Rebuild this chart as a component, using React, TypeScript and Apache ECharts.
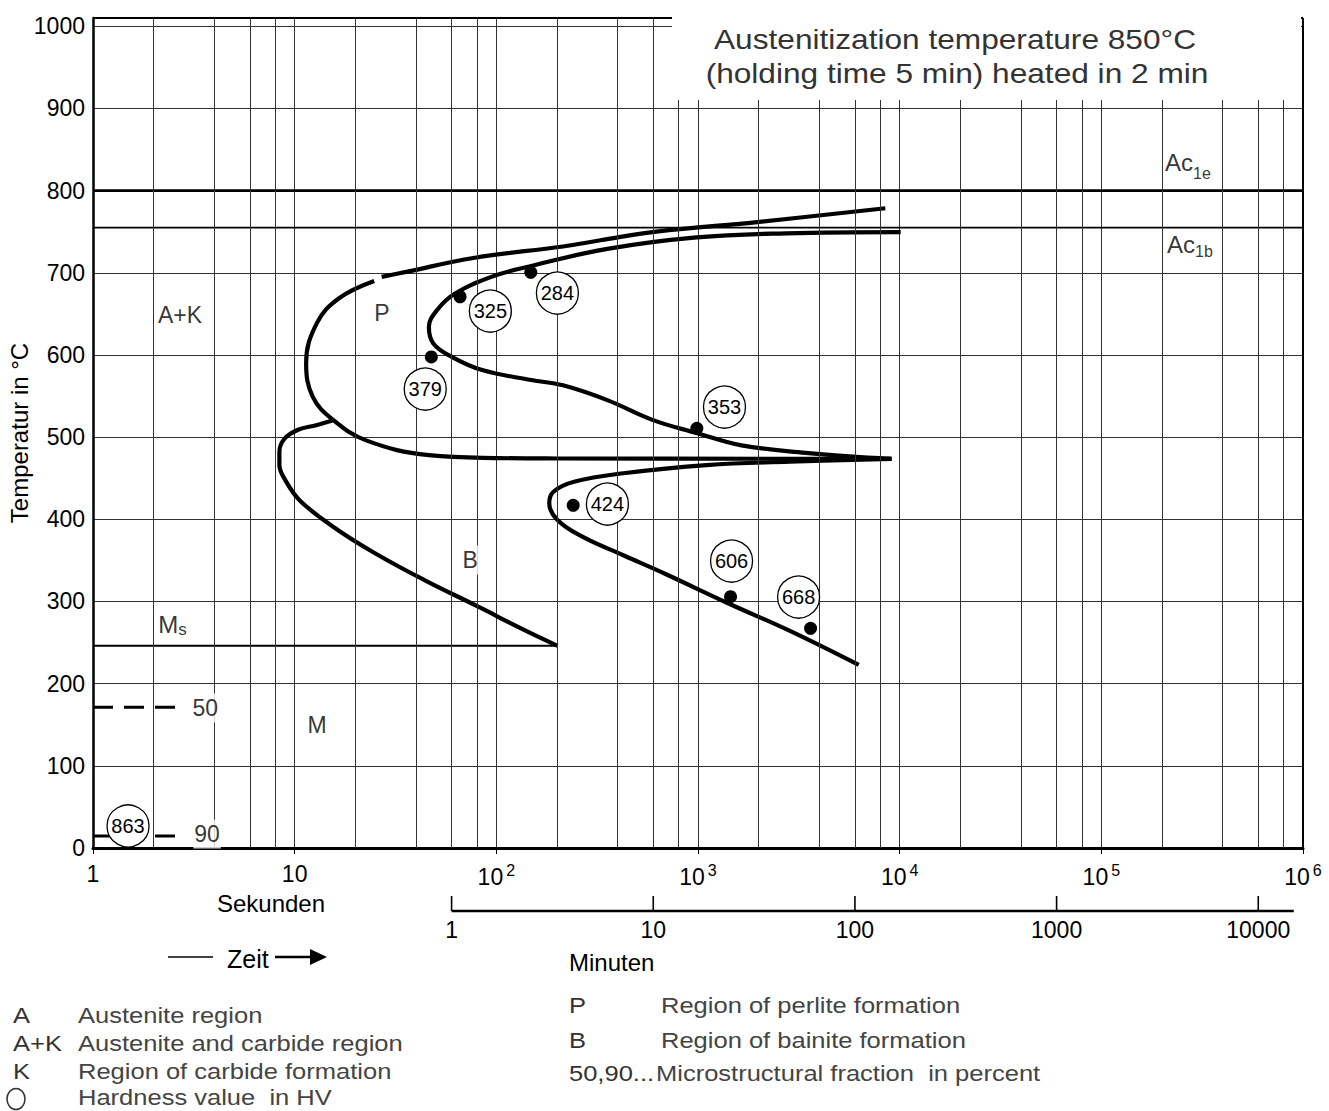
import React, { useEffect, useRef } from 'react';
import * as echarts from 'echarts';

const FONT = '"Liberation Sans", Arial, Helvetica, sans-serif';

// ---- axes ----
const X_MIN = 1;
const X_MAX = 1e6;
const Y_MIN = 0;
const Y_MAX = 1010; // drawn frame top (labels end at 1000)
const Y_INTERVAL = 100;
const minorGridSeconds = [
  2, 4, 6, 8, 20, 40, 60, 80, 200, 400, 600, 800, 2000, 4000, 6000, 8000,
  20000, 40000, 60000, 80000, 200000, 400000, 600000, 800000,
];
const minuteTicks = [1, 10, 100, 1000, 10000];
const minuteAxisEnd = 15000;

// ---- lines (time s, temperature °C) ----
const ac1eLine = [[1, 800], [1e6, 800]];
const ac1bLine = [[1, 755], [1e6, 755]];
const msLine = [[1, 246], [201, 246]];
const fraction50Line = [[1, 171.2], [2.64, 171.2]];
const fraction90Line = [[1, 14.6], [2.64, 14.6]];

const pearliteStartUpper = [
  [8490, 778.5], [2018, 762], [622, 750], [328, 739.5], [214, 732], [76.9, 718],
  [35.7, 701], [27, 695],
];
const pearliteStartLower = [
  [24.8, 690], [16.6, 669], [12.9, 639], [11.4, 590], [12.3, 549], [15.5, 521],
  [22.6, 496], [46.3, 478], [102, 474.5], [200, 474], [9100, 473.5],
];
const pearliteEnd = [
  [10116, 749.5], [2742, 748], [984, 743], [355, 729], [142, 707], [94.4, 695],
  [62.7, 675], [51, 655], [46.3, 634], [48.7, 614], [59.8, 598], [85, 581.6],
  [149, 569.5], [214, 563], [355, 545], [594, 521], [984, 505], [1644, 490],
  [3532, 480.6], [9100, 473.5],
];
const bainiteStart = [
  [15.5, 520.5], [12.8, 514.5], [10.4, 509], [8.9, 498], [8.4, 482], [8.4, 466],
  [8.97, 448], [10.6, 423], [15.5, 391], [24.9, 359], [44, 326], [81.4, 293.6],
  [138, 265], [201, 246],
];
const bainiteEnd = [
  [9120, 473.5], [2845, 470], [1102, 466], [427, 456], [243, 445.6], [192, 433.5],
  [183, 419.6], [201, 399.1], [267, 378.8], [429, 355.9], [690, 333.4], [1400, 298.1],
  [2857, 264.1], [6266, 222.7],
];

// ---- hardness ----
const hardnessDots = [
  [66.1, 670.8], [148.2, 700.5], [47.6, 597.5], [987, 510.7], [240.5, 417],
  [1450, 305.8], [3616, 267.3],
];
const hardnessCircles = [
  [93.4, 653.4, 325], [200.8, 675.3, 284], [44.4, 558.5, 379], [1353, 536.6, 353],
  [355.5, 418.6, 424], [1467, 349.2, 606], [3154, 305.4, 668], [1.492, 26.8, 863],
];

// ---- in-plot labels ----
const regionLabels = [
  { name: 'A+K', value: [2.7, 648.6] },
  { name: 'P', value: [27.1, 650.6] },
  { name: 'M', value: [12.93, 149.7] },
];
const boxedLabels = [
  { name: 'B', value: [74.1, 350.4] },
  { name: '50', value: [3.6, 170.4] },
  { name: '90', value: [3.68, 17] },
];
// sub: subscript text; drop: rich style key that sets how low the subscript sits
const subLabels = [
  { name: 'Ms', base: 'M', sub: 's', drop: 'm', value: [2.48, 271] },
  { name: 'Ac1e', base: 'Ac', sub: '1e', drop: 'e', value: [268800, 829.9] },
  { name: 'Ac1b', base: 'Ac', sub: '1b', drop: 'b', value: [275000, 733.1] },
];

const titleLines = ['Austenitization temperature 850°C', '(holding time 5 min) heated in 2 min'];
const legendLeft = [
  ['A', 'Austenite region'],
  ['A+K', 'Austenite and carbide region'],
  ['K', 'Region of carbide formation'],
  ['', 'Hardness value  in HV'],
];
const legendRight = [
  ['P', 'Region of perlite formation'],
  ['B', 'Region of bainite formation'],
  ['50,90...', 'Microstructural fraction  in percent'],
];

function curve(name: string, data: number[][], width = 4.2, smooth: number | boolean = 0.4) {
  return {
    type: 'line',
    name,
    data,
    symbol: 'none',
    showSymbol: false,
    smooth,
    silent: true,
    z: 3,
    lineStyle: { color: '#000', width, cap: 'butt', opacity: 1 },
  };
}

function buildOption() {
  return {
    animation: false,
    backgroundColor: '#fff',
    textStyle: { fontFamily: FONT },
    grid: { left: 93, right: 26, top: 18, bottom: 263, containLabel: false },
    xAxis: [
      {
        type: 'log',
        logBase: 10,
        min: X_MIN,
        max: X_MAX,
        axisLine: { show: true, lineStyle: { color: '#000', width: 3 } },
        axisTick: { show: true, length: 6, lineStyle: { color: '#000', width: 1 } },
        axisLabel: {
          fontSize: 23,
          color: '#000',
          fontFamily: FONT,
          margin: 14,
          formatter: (v: number) => {
            const e = Math.round(Math.log10(v));
            if (e === 0) return '1';
            if (e === 1) return '10';
            return '{b|10}{s|' + e + '}';
          },
          rich: {
            b: { fontSize: 23, fontFamily: FONT, color: '#000', lineHeight: 26, verticalAlign: 'bottom' },
            s: { fontSize: 16, fontFamily: FONT, color: '#000', lineHeight: 16, verticalAlign: 'top', padding: [0, 0, 0, 3] },
          },
        },
        splitLine: { show: true, lineStyle: { color: '#333', width: 1 } },
      },
    ],
    yAxis: [
      {
        type: 'value',
        min: Y_MIN,
        max: Y_MAX,
        interval: Y_INTERVAL,
        axisLine: { show: true, lineStyle: { color: '#000', width: 2.5 } },
        axisTick: { show: false },
        axisLabel: {
          fontSize: 23,
          color: '#000',
          fontFamily: FONT,
          margin: 8,
          formatter: (v: number) => (v > 1000 ? '' : String(v)),
        },
        splitLine: { show: true, lineStyle: { color: '#333', width: 1 } },
      },
    ],
    series: [
      {
        ...curve('Ac1e', ac1eLine, 2.7, false),
        markLine: {
          silent: true,
          symbol: ['none', 'none'],
          label: { show: false },
          animation: false,
          lineStyle: { color: '#333', width: 1, type: 'solid' },
          data: [
            ...minorGridSeconds.map((s) => ({ xAxis: s })),
            { xAxis: X_MAX, lineStyle: { color: '#000', width: 2, type: 'solid' } },
            { yAxis: Y_MAX, lineStyle: { color: '#000', width: 2, type: 'solid' } },
          ],
        },
      },
      curve('Ac1b', ac1bLine, 1.8, false),
      curve('Ms', msLine, 2, false),
      {
        ...curve('50%', fraction50Line, 3, false),
        lineStyle: { color: '#000', width: 3, type: [20, 11] },
      },
      {
        ...curve('90%', fraction90Line, 3, false),
        lineStyle: { color: '#000', width: 3, type: [20, 11] },
      },
      curve('Perlite start (upper)', pearliteStartUpper),
      curve('Perlite start (lower)', pearliteStartLower),
      curve('Perlite end', pearliteEnd),
      curve('Bainite start', bainiteStart),
      curve('Bainite end', bainiteEnd),
      {
        type: 'scatter',
        name: 'hardness points',
        data: hardnessDots,
        symbol: 'circle',
        symbolSize: 13,
        silent: true,
        z: 4,
        itemStyle: { color: '#000', opacity: 1 },
      },
      {
        type: 'scatter',
        name: 'hardness HV',
        data: hardnessCircles,
        symbol: 'circle',
        symbolSize: 42,
        silent: true,
        z: 6,
        itemStyle: { color: '#fff', borderColor: '#000', borderWidth: 1.3, opacity: 1 },
        label: {
          show: true,
          position: 'inside',
          formatter: (p: any) => String(p.value[2]),
          fontSize: 20,
          fontFamily: FONT,
          color: '#000',
        },
      },
      {
        type: 'scatter',
        name: 'region labels',
        data: regionLabels,
        symbolSize: 1,
        silent: true,
        z: 7,
        itemStyle: { color: 'rgba(0,0,0,0)' },
        label: {
          show: true,
          position: 'inside',
          formatter: (p: any) => p.name,
          fontSize: 23,
          fontFamily: FONT,
          color: '#000',
        },
      },
      {
        type: 'scatter',
        name: 'boxed labels',
        data: boxedLabels,
        symbolSize: 1,
        silent: true,
        z: 7,
        itemStyle: { color: 'rgba(0,0,0,0)' },
        label: {
          show: true,
          position: 'inside',
          formatter: (p: any) => p.name,
          fontSize: 23,
          fontFamily: FONT,
          color: '#000',
          backgroundColor: '#fff',
          padding: [3, 1],
        },
      },
      {
        type: 'scatter',
        name: 'sub labels',
        data: subLabels,
        symbolSize: 1,
        silent: true,
        z: 7,
        itemStyle: { color: 'rgba(0,0,0,0)' },
        label: {
          show: true,
          position: 'inside',
          formatter: (p: any) => '{a|' + p.data.base + '}{' + p.data.drop + '|' + p.data.sub + '}',
          rich: {
            a: { fontSize: 24, fontFamily: FONT, color: '#000', lineHeight: 24, verticalAlign: 'top' },
            e: { fontSize: 16, fontFamily: FONT, color: '#000', lineHeight: 31, verticalAlign: 'bottom' },
            b: { fontSize: 16, fontFamily: FONT, color: '#000', lineHeight: 27, verticalAlign: 'bottom' },
            m: { fontSize: 17, fontFamily: FONT, color: '#000', lineHeight: 25.5, verticalAlign: 'bottom' },
          },
        },
      },
    ],
  };
}

function text(t: string, x: number, y: number, size: number, o: any = {}) {
  return {
    type: 'text',
    x,
    y,
    scaleX: o.scaleX ?? 1,
    rotation: o.rotation ?? 0,
    z: 60,
    silent: true,
    style: {
      text: t,
      fontSize: size,
      fontFamily: FONT,
      fill: o.fill ?? '#000',
      textAlign: o.align ?? 'left',
      textVerticalAlign: 'middle',
    },
  };
}

function buildGraphic(px: (s: number) => number) {
  const g: any[] = [];
  // white title box covering frame
  g.push({ type: 'rect', z: 50, silent: true, shape: { x: 672, y: 0, width: 629, height: 100 }, style: { fill: '#fff' } });
  g.push(text(titleLines[0], 955, 39, 28, { align: 'center', scaleX: 1.13, fill: '#333' }));
  g.push(text(titleLines[1], 957, 73, 28, { align: 'center', scaleX: 1.13, fill: '#333' }));
  // axis names
  g.push(text('Temperatur in °C', 19, 433, 24, { align: 'center', rotation: Math.PI / 2 }));
  g.push(text('Sekunden', 271, 903, 24, { align: 'center' }));
  // Zeit arrow
  g.push({ type: 'line', z: 60, silent: true, shape: { x1: 168, y1: 957, x2: 213, y2: 957 }, style: { stroke: '#000', lineWidth: 1.6 } });
  g.push(text('Zeit', 227, 959, 25));
  g.push({ type: 'line', z: 60, silent: true, shape: { x1: 275, y1: 957, x2: 312, y2: 957 }, style: { stroke: '#000', lineWidth: 2.5 } });
  g.push({ type: 'polygon', z: 60, silent: true, shape: { points: [[310, 949], [327, 957], [310, 965]] }, style: { fill: '#000' } });
  // minute axis
  const yM = 911;
  g.push({ type: 'line', z: 60, silent: true, shape: { x1: px(60 * minuteTicks[0]), y1: yM, x2: px(60 * minuteAxisEnd), y2: yM }, style: { stroke: '#000', lineWidth: 2.5 } });
  minuteTicks.forEach((m) => {
    const x = px(60 * m);
    g.push({ type: 'line', z: 60, silent: true, shape: { x1: x, y1: 896, x2: x, y2: yM }, style: { stroke: '#000', lineWidth: 1.6 } });
    g.push(text(String(m), x, 930, 23, { align: 'center' }));
  });
  g.push(text('Minuten', 569, 962, 24));
  // legend
  const lf = '#444';
  const rowsL = [1015, 1043, 1071, 1097];
  legendLeft.forEach(([k, d], i) => {
    if (k) g.push(text(k, 13, rowsL[i], 22, { scaleX: 1.16, fill: '#333' }));
    g.push(text(d, 78, rowsL[i], 22, { scaleX: 1.16, fill: lf }));
  });
  g.push({ type: 'ellipse', z: 60, silent: true, shape: { cx: 16, cy: 1099, rx: 9, ry: 10.5 }, style: { fill: 'none', stroke: '#333', lineWidth: 1.6 } });
  const rowsR = [1005, 1040, 1073];
  legendRight.forEach(([k, d], i) => {
    g.push(text(k, 569, rowsR[i], 22, { scaleX: 1.16, fill: '#333' }));
    g.push(text(d, i === 2 ? 656 : 661, rowsR[i], 22, { scaleX: 1.16, fill: lf }));
  });
  return g;
}

export default function App() {
  const ref = useRef<HTMLDivElement>(null);
  useEffect(() => {
    if (!ref.current) return;
    const chart = echarts.init(ref.current, undefined, { renderer: 'svg' });
    chart.setOption(buildOption() as any);
    const px = (s: number) => chart.convertToPixel({ xAxisIndex: 0 } as any, s) as number;
    chart.setOption({ graphic: buildGraphic(px) } as any);
    return () => chart.dispose();
  }, []);
  return (
    <div
      ref={ref}
      style={{ position: 'fixed', left: 0, top: 0, width: 1329, height: 1111, background: '#fff' }}
    />
  );
}
